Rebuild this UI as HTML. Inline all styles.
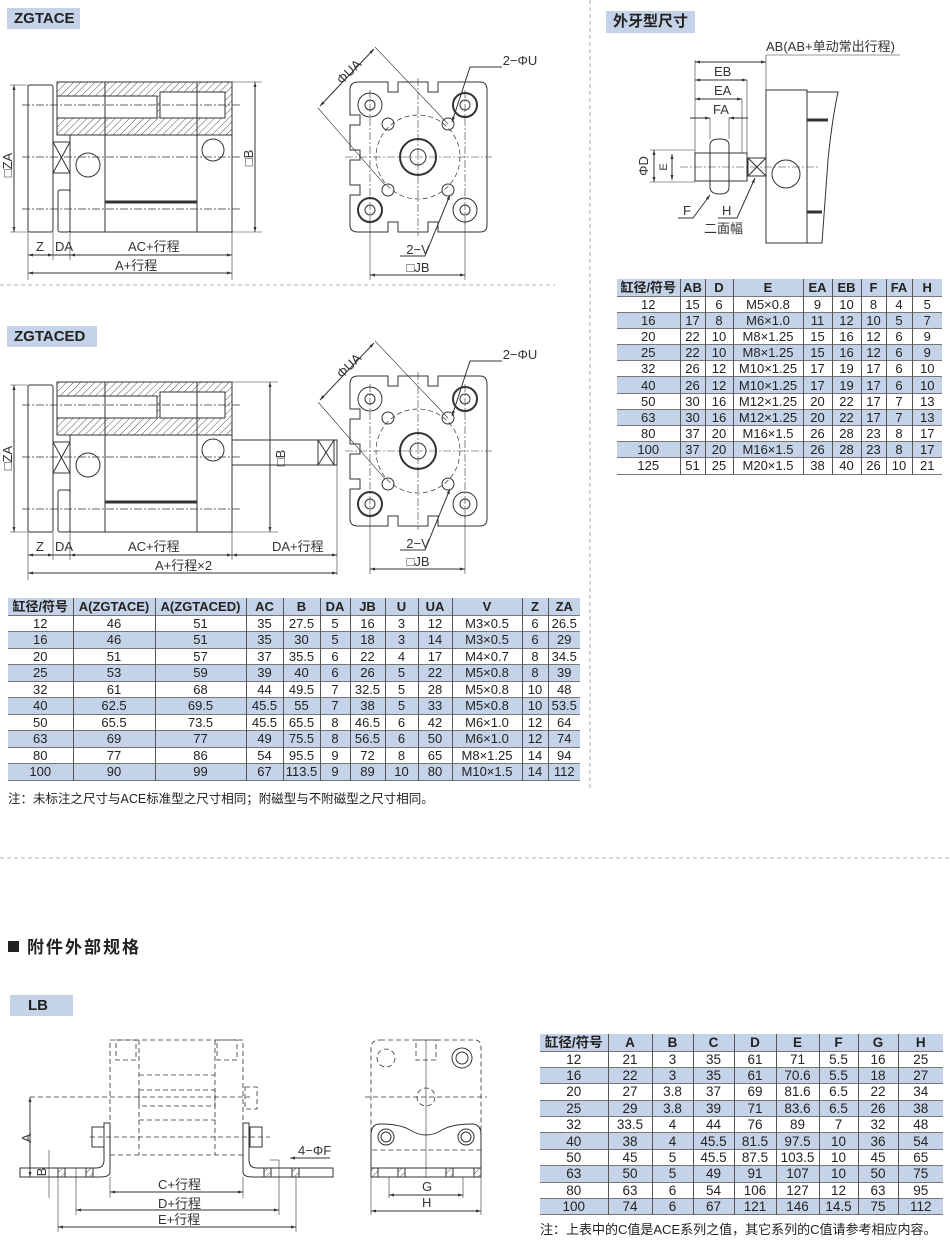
<!DOCTYPE html>
<html><head><meta charset="utf-8"><style>
*{margin:0;padding:0;box-sizing:border-box}
body{width:950px;height:1244px;background:#fff;position:relative;overflow:hidden;font-family:"Liberation Sans","Noto Sans CJK SC",sans-serif;color:#222}
.tag{position:absolute;background:#c5d3e8;font-weight:bold;font-size:15px;padding-left:7px;line-height:21px}
table{position:absolute;border-collapse:collapse;table-layout:fixed;font-size:13px}
td{border-left:1px solid #555;text-align:center;padding:0;line-height:15px;white-space:nowrap;overflow:hidden}
td:first-child{border-left:none}
tr{border-bottom:1px solid #777}
tr.b{background:#c5d3e8}
tr.h td{font-weight:bold}
.note{position:absolute;font-size:12.5px}
svg{position:absolute;left:0;top:0}
</style></head><body>
<svg width="950" height="1244" viewBox="0 0 950 1244" font-family="Liberation Sans, Noto Sans CJK SC, sans-serif" font-size="12" fill="none" stroke="#333" stroke-width="1">
<defs>
<pattern id="h" width="5" height="5" patternUnits="userSpaceOnUse" patternTransform="rotate(45)"><line x1="0" y1="0" x2="0" y2="5" stroke="#555" stroke-width="1"/></pattern>
<marker id="a" viewBox="0 0 10 10" refX="10" refY="5" markerWidth="7" markerHeight="5" orient="auto-start-reverse"><path d="M0 2L10 5L0 8z" fill="#333" stroke="none"/></marker>
<g id="side">
<rect x="28" y="85" width="25" height="147" rx="2"/>
<rect x="53" y="142" width="17" height="31"/><path d="M53 142L70 173M70 142L53 173"/>
<rect x="58" y="190" width="12" height="42" rx="2"/>
<rect x="57" y="82" width="175" height="53" fill="url(#h)"/>
<rect x="57" y="96" width="100" height="22" fill="#fff"/>
<rect x="160" y="92" width="65" height="26" fill="#fff"/>
<rect x="70" y="135" width="162" height="97"/>
<line x1="105" y1="82" x2="105" y2="232"/><line x1="197" y1="82" x2="197" y2="232"/>
<line x1="105" y1="202" x2="197" y2="202" stroke-width="3"/>
<circle cx="88" cy="165" r="12"/><circle cx="213" cy="150" r="11"/>
<g stroke-dasharray="8 2 2 2" stroke-width="0.7"><line x1="22" y1="105" x2="240" y2="105"/><line x1="22" y1="157" x2="240" y2="157"/><line x1="22" y1="209" x2="240" y2="209"/></g>
<line x1="14" y1="85" x2="14" y2="232" marker-start="url(#a)" marker-end="url(#a)"/>
<line x1="10" y1="85" x2="28" y2="85" stroke-width=".6"/><line x1="10" y1="232" x2="28" y2="232" stroke-width=".6"/>
<line x1="28" y1="232" x2="28" y2="280" stroke-width=".6"/><line x1="53" y1="232" x2="53" y2="260" stroke-width=".6"/><line x1="70" y1="232" x2="70" y2="260" stroke-width=".6"/>
<line x1="28" y1="255" x2="53" y2="255" marker-start="url(#a)" marker-end="url(#a)"/>
<line x1="53" y1="255" x2="70" y2="255"/>
<line x1="70" y1="255" x2="232" y2="255" marker-start="url(#a)" marker-end="url(#a)"/>
<g fill="#333" stroke="none" font-size="13"><text x="36" y="251">Z</text><text x="55" y="251">DA</text><text x="128" y="251">AC+行程</text></g>
</g>
<g id="front">
<path d="M358 82H388V92H398V82H428V92H438V82H480Q487 82 487 90V225Q487 232 480 232H438V222H428V232H398V222H388V232H358Q350 232 350 225V195H360V185H350V160H360V150H350V125H360V115H350V90Q350 82 358 82Z"/>
<circle cx="418" cy="157" r="42" stroke-dasharray="5 3" stroke-width=".7"/>
<circle cx="418" cy="157" r="18" stroke-width="2"/><circle cx="418" cy="157" r="8"/>
<circle cx="370" cy="105" r="12"/><circle cx="370" cy="105" r="5"/>
<circle cx="465" cy="105" r="12" stroke-width="2"/><circle cx="465" cy="105" r="5"/>
<circle cx="370" cy="210" r="12" stroke-width="2"/><circle cx="370" cy="210" r="5"/>
<circle cx="465" cy="210" r="12"/><circle cx="465" cy="210" r="5"/>
<circle cx="388" cy="124" r="6"/><circle cx="448" cy="124" r="6"/><circle cx="388" cy="190" r="6"/><circle cx="448" cy="190" r="6"/>
<g stroke-dasharray="8 2 2 2" stroke-width="0.6"><line x1="345" y1="157" x2="492" y2="157"/><line x1="418" y1="78" x2="418" y2="236"/><line x1="370" y1="90" x2="370" y2="225"/><line x1="465" y1="90" x2="465" y2="225"/></g>
<line x1="370" y1="222" x2="370" y2="280" stroke-width=".6"/><line x1="465" y1="222" x2="465" y2="280" stroke-width=".6"/>
<line x1="370" y1="275" x2="465" y2="275" marker-start="url(#a)" marker-end="url(#a)"/>
<line x1="375" y1="47" x2="448" y2="124" stroke-width=".6"/><line x1="318" y1="108" x2="385" y2="185" stroke-width=".6"/>
<line x1="320" y1="106" x2="374" y2="49" marker-start="url(#a)" marker-end="url(#a)"/>
<path d="M502 67H470L452 122" marker-end="url(#a)"/><path d="M400 256H425L450 195" marker-end="url(#a)"/>
<g fill="#333" stroke="none" font-size="13"><text x="520" y="65" text-anchor="middle">2−ΦU</text><text x="418" y="254" text-anchor="middle">2−V</text><text x="418" y="272" text-anchor="middle">□JB</text><text transform="translate(342 85) rotate(-45)">ΦUA</text></g>
</g>
</defs>
<!-- separators -->
<g stroke="#999" stroke-dasharray="4 3" stroke-width=".8"><line x1="590" y1="0" x2="590" y2="790"/><line x1="0" y1="285" x2="555" y2="285"/><line x1="0" y1="858" x2="950" y2="858"/></g>
<!-- ZGTACE -->
<use href="#side"/>
<line x1="255" y1="82" x2="255" y2="232" marker-start="url(#a)" marker-end="url(#a)"/>
<line x1="232" y1="82" x2="262" y2="82" stroke-width=".6"/><line x1="232" y1="232" x2="262" y2="232" stroke-width=".6"/><line x1="232" y1="232" x2="232" y2="280" stroke-width=".6"/>
<line x1="28" y1="273" x2="232" y2="273" marker-start="url(#a)" marker-end="url(#a)"/>
<g fill="#333" stroke="none" font-size="13"><text x="115" y="270">A+行程</text><text transform="translate(12 165) rotate(-90)" text-anchor="middle">□ZA</text><text transform="translate(253 158) rotate(-90)" text-anchor="middle">□B</text></g>
<use href="#front"/>
<!-- ZGTACED -->
<g transform="translate(0 300)">
<use href="#side"/>
<rect x="232" y="140" width="105" height="25"/><rect x="318" y="140" width="16" height="25"/><path d="M318 140L334 165M334 140L318 165"/>
<line x1="270" y1="82" x2="270" y2="232" marker-start="url(#a)" marker-end="url(#a)"/>
<line x1="232" y1="82" x2="278" y2="82" stroke-width=".6"/><line x1="232" y1="232" x2="278" y2="232" stroke-width=".6"/>
<line x1="232" y1="232" x2="232" y2="260" stroke-width=".6"/><line x1="337" y1="165" x2="337" y2="275" stroke-width=".6"/>
<line x1="232" y1="255" x2="337" y2="255" marker-start="url(#a)" marker-end="url(#a)"/>
<line x1="28" y1="273" x2="337" y2="273" marker-start="url(#a)" marker-end="url(#a)"/>
<g fill="#333" stroke="none" font-size="13"><text x="272" y="251">DA+行程</text><text x="155" y="270">A+行程×2</text><text transform="translate(12 158) rotate(-90)" text-anchor="middle">□ZA</text><text transform="translate(285 158) rotate(-90)" text-anchor="middle">□B</text></g>
</g>
<g transform="translate(0 294)"><use href="#front"/></g>
<!-- 外牙 -->
<path d="M766 90H807V243H766Z"/><path d="M807 92H838Q832 120 828 160L822 243H807"/>
<line x1="807" y1="120" x2="828" y2="120" stroke-width="3"/><line x1="807" y1="212" x2="822" y2="212" stroke-width="3"/>
<circle cx="786" cy="174" r="14"/>
<rect x="695" y="153" width="52" height="28"/>
<path d="M710 145Q710 139 720 139Q729 139 729 145V187Q729 194 720 194Q710 194 710 187Z"/>
<rect x="748" y="158" width="18" height="18"/><path d="M748 158L766 176M766 158L748 176"/>
<line x1="680" y1="167" x2="820" y2="167" stroke-dasharray="8 2 2 2" stroke-width=".6"/>
<line x1="695" y1="60" x2="695" y2="153" stroke-width=".6"/><line x1="766" y1="55" x2="766" y2="90" stroke-width=".6"/>
<line x1="695" y1="62" x2="766" y2="62" marker-start="url(#a)" marker-end="url(#a)"/><line x1="766" y1="55" x2="900" y2="55" stroke-width=".6"/>
<line x1="695" y1="80" x2="747" y2="80" marker-start="url(#a)" marker-end="url(#a)"/><line x1="747" y1="80" x2="747" y2="153" stroke-width=".6"/>
<line x1="695" y1="99" x2="742" y2="99" marker-start="url(#a)" marker-end="url(#a)"/><line x1="742" y1="99" x2="742" y2="153" stroke-width=".6"/>
<line x1="690" y1="118" x2="710" y2="118" marker-end="url(#a)"/><line x1="729" y1="118" x2="748" y2="118" marker-start="url(#a)"/>
<line x1="710" y1="118" x2="710" y2="139" stroke-width=".6"/><line x1="729" y1="118" x2="729" y2="139" stroke-width=".6"/>
<line x1="650" y1="150" x2="695" y2="150" stroke-width=".6"/><line x1="650" y1="182" x2="695" y2="182" stroke-width=".6"/>
<line x1="654" y1="150" x2="654" y2="182" marker-start="url(#a)" marker-end="url(#a)"/>
<line x1="672" y1="154" x2="672" y2="180" marker-start="url(#a)" marker-end="url(#a)"/>
<path d="M678 218H693L710 195" marker-end="url(#a)"/><path d="M718 218H737L755 178" marker-end="url(#a)"/>
<g fill="#333" stroke="none" font-size="13"><text x="766" y="51">AB(AB+单动常出行程)</text><text x="714" y="76">EB</text><text x="714" y="95">EA</text><text x="713" y="114">FA</text><text x="683" y="215">F</text><text x="722" y="215">H</text><text x="704" y="233">二面幅</text><text transform="translate(648 166) rotate(-90)" text-anchor="middle">ΦD</text><text transform="translate(667 167) rotate(-90)" text-anchor="middle" font-size="11">E</text></g>
<!-- section title -->
<rect x="8" y="941" width="11" height="11" fill="#222" stroke="none"/>
<text x="27" y="953" fill="#222" stroke="none" font-size="17" font-weight="bold" letter-spacing="2">附件外部规格</text>
<!-- LB side -->
<g stroke-dasharray="5 3" stroke-width=".8">
<rect x="110" y="1040" width="133" height="115"/><line x1="139" y1="1040" x2="139" y2="1155"/><line x1="215" y1="1040" x2="215" y2="1155"/>
<line x1="139" y1="1075" x2="215" y2="1075"/><rect x="139" y="1090" width="76" height="16"/><line x1="139" y1="1120" x2="215" y2="1120"/>
<rect x="116" y="1040" width="20" height="20"/><rect x="217" y="1040" width="20" height="20"/>
<line x1="30" y1="1097" x2="250" y2="1097"/><line x1="90" y1="1137" x2="270" y2="1137"/>
<rect x="245" y="1087" width="12" height="22"/>
</g>
<path d="M104 1123H110V1172Q110 1177 100 1177H20V1168H96Q104 1168 104 1160Z"/>
<path d="M249 1123H243V1172Q243 1177 253 1177H333V1168H257Q249 1168 249 1160Z"/>
<rect x="92" y="1127" width="12" height="20"/><rect x="250" y="1127" width="12" height="20"/>
<rect x="58" y="1168" width="7" height="9" fill="url(#h)"/><rect x="86" y="1168" width="7" height="9" fill="url(#h)"/><rect x="264" y="1168" width="7" height="9" fill="url(#h)"/><rect x="292" y="1168" width="7" height="9" fill="url(#h)"/>
<line x1="30" y1="1097" x2="30" y2="1177" marker-start="url(#a)" marker-end="url(#a)"/>
<line x1="49" y1="1150" x2="49" y2="1198" stroke-width=".6"/>
<line x1="110" y1="1177" x2="110" y2="1198" stroke-width=".6"/><line x1="243" y1="1177" x2="243" y2="1198" stroke-width=".6"/>
<line x1="76" y1="1168" x2="76" y2="1215" stroke-width=".6"/><line x1="279" y1="1160" x2="279" y2="1215" stroke-width=".6"/>
<line x1="58" y1="1177" x2="58" y2="1232" stroke-width=".6"/><line x1="296" y1="1177" x2="296" y2="1232" stroke-width=".6"/>
<line x1="110" y1="1192" x2="243" y2="1192" marker-start="url(#a)" marker-end="url(#a)"/>
<line x1="76" y1="1210" x2="279" y2="1210" marker-start="url(#a)" marker-end="url(#a)"/>
<line x1="58" y1="1227" x2="296" y2="1227" marker-start="url(#a)" marker-end="url(#a)"/>
<path d="M330 1158H290" marker-end="url(#a)"/><line x1="270" y1="1160" x2="279" y2="1160" stroke-width=".6"/>
<g fill="#333" stroke="none" font-size="13"><text x="158" y="1189">C+行程</text><text x="158" y="1208">D+行程</text><text x="158" y="1224">E+行程</text><text x="298" y="1155">4−ΦF</text><text transform="translate(31 1138) rotate(-90)" text-anchor="middle">A</text><text transform="translate(46 1172) rotate(-90)" text-anchor="middle">B</text></g>
<!-- LB front -->
<g stroke-dasharray="5 3" stroke-width=".8"><path d="M380 1040H475Q481 1040 481 1048V1150H371V1048Q371 1040 380 1040Z"/><rect x="416" y="1040" width="20" height="20"/><circle cx="426" cy="1097" r="9"/><line x1="365" y1="1097" x2="487" y2="1097"/><circle cx="386" cy="1058" r="9"/></g>
<circle cx="462" cy="1058" r="10"/><circle cx="462" cy="1058" r="6"/>
<path d="M380 1124Q400 1124 410 1130Q426 1140 442 1130Q452 1124 472 1124Q481 1124 481 1135V1168H371V1135Q371 1124 380 1124Z"/>
<circle cx="386" cy="1137" r="8"/><circle cx="386" cy="1137" r="5"/><circle cx="466" cy="1137" r="8"/><circle cx="466" cy="1137" r="5"/>
<rect x="371" y="1168" width="110" height="9"/>
<rect x="371" y="1168" width="7" height="9" fill="url(#h)"/><rect x="398" y="1168" width="7" height="9" fill="url(#h)"/><rect x="446" y="1168" width="7" height="9" fill="url(#h)"/><rect x="474" y="1168" width="7" height="9" fill="url(#h)"/>
<line x1="426" y1="1040" x2="426" y2="1177" stroke-width=".6"/>
<line x1="389" y1="1177" x2="389" y2="1198" stroke-width=".6"/><line x1="463" y1="1177" x2="463" y2="1198" stroke-width=".6"/>
<line x1="371" y1="1177" x2="371" y2="1215" stroke-width=".6"/><line x1="481" y1="1177" x2="481" y2="1215" stroke-width=".6"/>
<line x1="389" y1="1195" x2="463" y2="1195" marker-start="url(#a)" marker-end="url(#a)"/>
<line x1="371" y1="1211" x2="481" y2="1211" marker-start="url(#a)" marker-end="url(#a)"/>
<g fill="#333" stroke="none" font-size="13"><text x="422" y="1191">G</text><text x="422" y="1207">H</text></g>
</svg>

<div class="tag" style="left:7px;top:8px;width:73px">ZGTACE</div>
<div class="tag" style="left:7px;top:326px;width:90px">ZGTACED</div>
<div class="tag" style="left:606px;top:11px;width:89px;line-height:22px">外牙型尺寸</div>
<div class="tag" style="left:10px;top:995px;width:63px;padding-left:18px">LB</div>

<table style="left:8px;top:598px;width:572px">
<colgroup><col style="width:65px"><col style="width:82px"><col style="width:91px"><col style="width:37px"><col style="width:37px"><col style="width:30px"><col style="width:35px"><col style="width:33px"><col style="width:34px"><col style="width:70px"><col style="width:26px"><col style="width:32px"></colgroup>
<tr class="b h" style="height:17px"><td>缸径/符号</td><td>A(ZGTACE)</td><td>A(ZGTACED)</td><td>AC</td><td>B</td><td>DA</td><td>JB</td><td>U</td><td>UA</td><td>V</td><td>Z</td><td>ZA</td></tr>
<tr style="height:16.5px"><td>12</td><td>46</td><td>51</td><td>35</td><td>27.5</td><td>5</td><td>16</td><td>3</td><td>12</td><td>M3×0.5</td><td>6</td><td>26.5</td></tr>
<tr class="b" style="height:16.5px"><td>16</td><td>46</td><td>51</td><td>35</td><td>30</td><td>5</td><td>18</td><td>3</td><td>14</td><td>M3×0.5</td><td>6</td><td>29</td></tr>
<tr style="height:16.5px"><td>20</td><td>51</td><td>57</td><td>37</td><td>35.5</td><td>6</td><td>22</td><td>4</td><td>17</td><td>M4×0.7</td><td>8</td><td>34.5</td></tr>
<tr class="b" style="height:16.5px"><td>25</td><td>53</td><td>59</td><td>39</td><td>40</td><td>6</td><td>26</td><td>5</td><td>22</td><td>M5×0.8</td><td>8</td><td>39</td></tr>
<tr style="height:16.5px"><td>32</td><td>61</td><td>68</td><td>44</td><td>49.5</td><td>7</td><td>32.5</td><td>5</td><td>28</td><td>M5×0.8</td><td>10</td><td>48</td></tr>
<tr class="b" style="height:16.5px"><td>40</td><td>62.5</td><td>69.5</td><td>45.5</td><td>55</td><td>7</td><td>38</td><td>5</td><td>33</td><td>M5×0.8</td><td>10</td><td>53.5</td></tr>
<tr style="height:16.5px"><td>50</td><td>65.5</td><td>73.5</td><td>45.5</td><td>65.5</td><td>8</td><td>46.5</td><td>6</td><td>42</td><td>M6×1.0</td><td>12</td><td>64</td></tr>
<tr class="b" style="height:16.5px"><td>63</td><td>69</td><td>77</td><td>49</td><td>75.5</td><td>8</td><td>56.5</td><td>6</td><td>50</td><td>M6×1.0</td><td>12</td><td>74</td></tr>
<tr style="height:16.5px"><td>80</td><td>77</td><td>86</td><td>54</td><td>95.5</td><td>9</td><td>72</td><td>8</td><td>65</td><td>M8×1.25</td><td>14</td><td>94</td></tr>
<tr class="b" style="height:16.5px"><td>100</td><td>90</td><td>99</td><td>67</td><td>113.5</td><td>9</td><td>89</td><td>10</td><td>80</td><td>M10×1.5</td><td>14</td><td>112</td></tr>
</table>
<div class="note" style="left:8px;top:788px">注：未标注之尺寸与ACE标准型之尺寸相同；附磁型与不附磁型之尺寸相同。</div>

<table style="left:617px;top:279px;width:325px">
<colgroup><col style="width:63px"><col style="width:25px"><col style="width:28px"><col style="width:70px"><col style="width:29px"><col style="width:29px"><col style="width:25px"><col style="width:26px"><col style="width:30px"></colgroup>
<tr class="b h" style="height:17px"><td>缸径/符号</td><td>AB</td><td>D</td><td>E</td><td>EA</td><td>EB</td><td>F</td><td>FA</td><td>H</td></tr>
<tr style="height:16.2px"><td>12</td><td>15</td><td>6</td><td>M5×0.8</td><td>9</td><td>10</td><td>8</td><td>4</td><td>5</td></tr>
<tr class="b" style="height:16.2px"><td>16</td><td>17</td><td>8</td><td>M6×1.0</td><td>11</td><td>12</td><td>10</td><td>5</td><td>7</td></tr>
<tr style="height:16.2px"><td>20</td><td>22</td><td>10</td><td>M8×1.25</td><td>15</td><td>16</td><td>12</td><td>6</td><td>9</td></tr>
<tr class="b" style="height:16.2px"><td>25</td><td>22</td><td>10</td><td>M8×1.25</td><td>15</td><td>16</td><td>12</td><td>6</td><td>9</td></tr>
<tr style="height:16.2px"><td>32</td><td>26</td><td>12</td><td>M10×1.25</td><td>17</td><td>19</td><td>17</td><td>6</td><td>10</td></tr>
<tr class="b" style="height:16.2px"><td>40</td><td>26</td><td>12</td><td>M10×1.25</td><td>17</td><td>19</td><td>17</td><td>6</td><td>10</td></tr>
<tr style="height:16.2px"><td>50</td><td>30</td><td>16</td><td>M12×1.25</td><td>20</td><td>22</td><td>17</td><td>7</td><td>13</td></tr>
<tr class="b" style="height:16.2px"><td>63</td><td>30</td><td>16</td><td>M12×1.25</td><td>20</td><td>22</td><td>17</td><td>7</td><td>13</td></tr>
<tr style="height:16.2px"><td>80</td><td>37</td><td>20</td><td>M16×1.5</td><td>26</td><td>28</td><td>23</td><td>8</td><td>17</td></tr>
<tr class="b" style="height:16.2px"><td>100</td><td>37</td><td>20</td><td>M16×1.5</td><td>26</td><td>28</td><td>23</td><td>8</td><td>17</td></tr>
<tr style="height:16.2px"><td>125</td><td>51</td><td>25</td><td>M20×1.5</td><td>38</td><td>40</td><td>26</td><td>10</td><td>21</td></tr>
</table>

<table style="left:540px;top:1034px;width:403px;font-size:13.5px">
<colgroup><col style="width:68px"><col style="width:44px"><col style="width:41px"><col style="width:41px"><col style="width:42px"><col style="width:43px"><col style="width:39px"><col style="width:40px"><col style="width:45px"></colgroup>
<tr class="b h" style="height:17px"><td>缸径/符号</td><td>A</td><td>B</td><td>C</td><td>D</td><td>E</td><td>F</td><td>G</td><td>H</td></tr>
<tr style="height:16.4px"><td>12</td><td>21</td><td>3</td><td>35</td><td>61</td><td>71</td><td>5.5</td><td>16</td><td>25</td></tr>
<tr class="b" style="height:16.4px"><td>16</td><td>22</td><td>3</td><td>35</td><td>61</td><td>70.6</td><td>5.5</td><td>18</td><td>27</td></tr>
<tr style="height:16.4px"><td>20</td><td>27</td><td>3.8</td><td>37</td><td>69</td><td>81.6</td><td>6.5</td><td>22</td><td>34</td></tr>
<tr class="b" style="height:16.4px"><td>25</td><td>29</td><td>3.8</td><td>39</td><td>71</td><td>83.6</td><td>6.5</td><td>26</td><td>38</td></tr>
<tr style="height:16.4px"><td>32</td><td>33.5</td><td>4</td><td>44</td><td>76</td><td>89</td><td>7</td><td>32</td><td>48</td></tr>
<tr class="b" style="height:16.4px"><td>40</td><td>38</td><td>4</td><td>45.5</td><td>81.5</td><td>97.5</td><td>10</td><td>36</td><td>54</td></tr>
<tr style="height:16.4px"><td>50</td><td>45</td><td>5</td><td>45.5</td><td>87.5</td><td>103.5</td><td>10</td><td>45</td><td>65</td></tr>
<tr class="b" style="height:16.4px"><td>63</td><td>50</td><td>5</td><td>49</td><td>91</td><td>107</td><td>10</td><td>50</td><td>75</td></tr>
<tr style="height:16.4px"><td>80</td><td>63</td><td>6</td><td>54</td><td>106</td><td>127</td><td>12</td><td>63</td><td>95</td></tr>
<tr class="b" style="height:16.4px"><td>100</td><td>74</td><td>6</td><td>67</td><td>121</td><td>146</td><td>14.5</td><td>75</td><td>112</td></tr>
</table>
<div class="note" style="left:540px;top:1219px;font-size:13px">注：上表中的C值是ACE系列之值，其它系列的C值请参考相应内容。</div>
</body></html>
